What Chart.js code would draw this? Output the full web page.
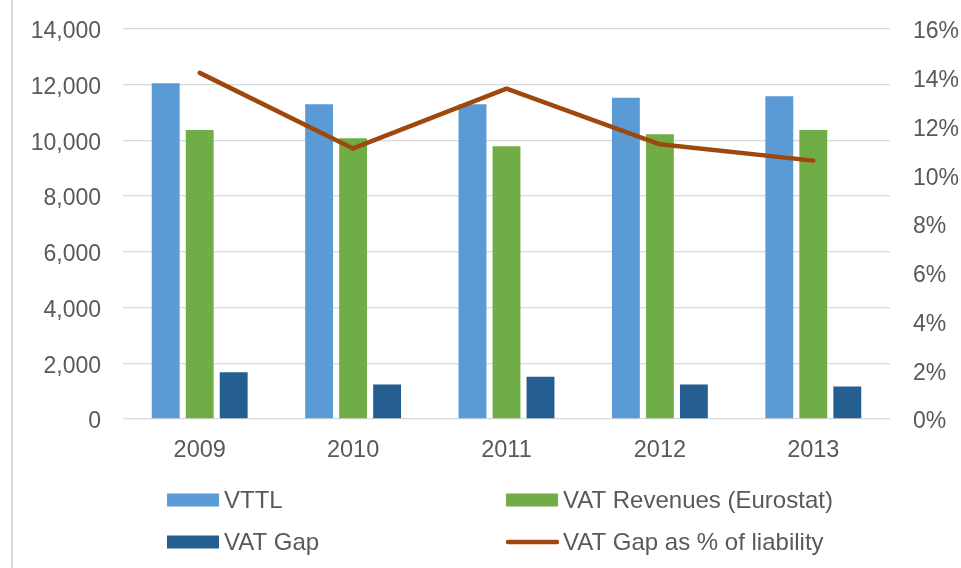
<!DOCTYPE html>
<html>
<head>
<meta charset="utf-8">
<script src="https://cdn.jsdelivr.net/npm/chart.js@4.4.1/dist/chart.umd.min.js"></script>
<style>
  html, body { margin: 0; padding: 0; background: #fff; }
  #wrap { position: relative; width: 961px; height: 568px; }
  #edge { position: absolute; left: 11px; top: 0; width: 2px; height: 568px; background: #d9d9d9; }
</style>
</head>
<body>
<div id="wrap">
  <canvas id="vatChart" width="961" height="568"></canvas>
  <div id="edge"></div>
</div>
<script>
// chart data
const years = ['2009', '2010', '2011', '2012', '2013'];
const vttl = [12050, 11300, 11300, 11530, 11590];
const vatRevenues = [10370, 10080, 9790, 10220, 10370];
const vatGap = [1680, 1235, 1520, 1235, 1165];
const gapPercent = [14.2, 11.1, 13.55, 11.27, 10.6];

const textColor = '#595959';
const fontFamily = '"Liberation Sans", Arial, sans-serif';

// two-column legend under the plot, like the Excel original
const gridLegend = {
    id: 'gridLegend',
    afterDraw(chart) {
        const ctx = chart.ctx;
        const cols = [167, 506];
        const rows = [500, 542];
        ctx.save();
        ctx.font = '24px ' + fontFamily;
        ctx.textBaseline = 'middle';
        chart.data.datasets.forEach((ds, i) => {
            const x = cols[i % 2];
            const y = rows[Math.floor(i / 2)];
            if (ds.type === 'line') {
                ctx.strokeStyle = ds.borderColor;
                ctx.lineWidth = 4.5;
                ctx.lineCap = 'round';
                ctx.beginPath();
                ctx.moveTo(x + 2, y);
                ctx.lineTo(x + 51, y);
                ctx.stroke();
            } else {
                ctx.fillStyle = ds.backgroundColor;
                ctx.fillRect(x, y - 6.5, 52, 13);
            }
            ctx.fillStyle = textColor;
            ctx.fillText(ds.label, x + 57, y + 1);
        });
        ctx.restore();
    }
};

// keep the plot box where the original has it
const fixWidth = w => scale => {
    scale.width = w;
    scale.paddingTop = 0;
    scale.paddingBottom = 0;
};

const ctx = document.getElementById('vatChart').getContext('2d');
new Chart(ctx, {
    data: {
        labels: years,
        datasets: [
            {
                type: 'bar',
                label: 'VTTL',
                data: vttl,
                backgroundColor: '#5B9BD5',
                yAxisID: 'y',
                order: 1,
                barPercentage: 0.82,
                categoryPercentage: 0.665
            },
            {
                type: 'bar',
                label: 'VAT Revenues (Eurostat)',
                data: vatRevenues,
                backgroundColor: '#70AD47',
                yAxisID: 'y',
                order: 1,
                barPercentage: 0.82,
                categoryPercentage: 0.665
            },
            {
                type: 'bar',
                label: 'VAT Gap',
                data: vatGap,
                backgroundColor: '#255E91',
                yAxisID: 'y',
                order: 1,
                barPercentage: 0.82,
                categoryPercentage: 0.665
            },
            {
                type: 'line',
                label: 'VAT Gap as % of liability',
                data: gapPercent,
                borderColor: '#9E480E',
                backgroundColor: '#9E480E',
                borderWidth: 4.5,
                borderCapStyle: 'round',
                borderJoinStyle: 'round',
                pointRadius: 0,
                tension: 0,
                yAxisID: 'y1',
                order: 0
            }
        ]
    },
    options: {
        responsive: false,
        animation: false,
        layout: {
            padding: { left: 0, right: 0, top: 29, bottom: 89 }
        },
        plugins: {
            legend: { display: false },
            tooltip: { enabled: false }
        },
        scales: {
            x: {
                grid: { display: false, drawTicks: false },
                border: { display: false },
                ticks: {
                    color: textColor,
                    font: { size: 23.5, family: fontFamily },
                    padding: 17
                },
                afterFit: scale => {
                    scale.height = 60;
                    scale.paddingLeft = 0;
                    scale.paddingRight = 0;
                }
            },
            y: {
                position: 'left',
                min: 0,
                max: 14000,
                grid: { color: '#d9d9d9', lineWidth: 1.3, drawTicks: false },
                border: { display: false },
                ticks: {
                    stepSize: 2000,
                    color: textColor,
                    font: { size: 23, family: fontFamily },
                    padding: 22,
                    labelOffset: 3,
                    callback: value => value.toLocaleString('en-US')
                },
                afterFit: fixWidth(123)
            },
            y1: {
                position: 'right',
                min: 0,
                max: 16,
                grid: { display: false, drawTicks: false },
                border: { display: false },
                ticks: {
                    stepSize: 2,
                    color: textColor,
                    font: { size: 23, family: fontFamily },
                    padding: 23,
                    labelOffset: 3,
                    callback: value => value + '%'
                },
                afterFit: fixWidth(71)
            }
        }
    },
    plugins: [gridLegend]
});
</script>
</body>
</html>
